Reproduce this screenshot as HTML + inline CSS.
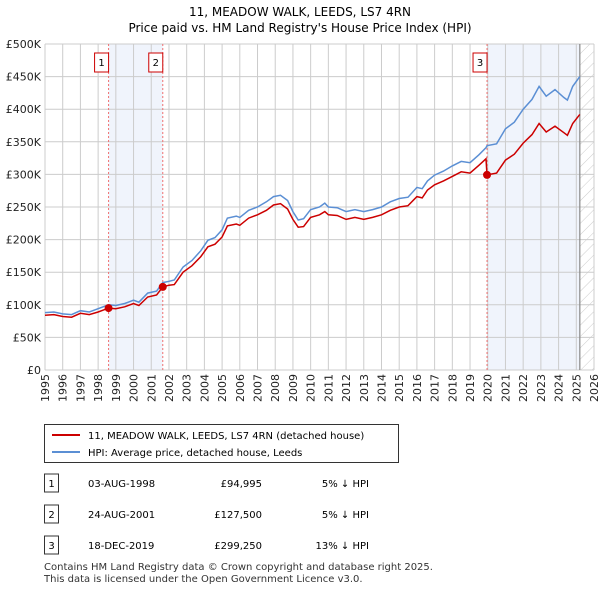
<!DOCTYPE html>
<html><head><meta charset="utf-8"><style>
body{margin:0;background:#fff;font-family:"Liberation Sans","DejaVu Sans",sans-serif}
svg text{font-family:"DejaVu Sans","Liberation Sans",sans-serif}
</style></head><body>
<svg id="c" width="600" height="590" viewBox="0 0 600 590" xmlns="http://www.w3.org/2000/svg">
<defs><pattern id="h" width="8" height="8" patternUnits="userSpaceOnUse" patternTransform="rotate(45)"><line x1="0" y1="0" x2="0" y2="8" stroke="#ccc" stroke-width="1"/></pattern></defs>
<text x="300" y="16" font-size="12" text-anchor="middle">11, MEADOW WALK, LEEDS, LS7 4RN</text>
<text x="300" y="32" font-size="12" text-anchor="middle">Price paid vs. HM Land Registry's House Price Index (HPI)</text>
<g id="plot"></g>
<g>
<rect x="44.5" y="424.5" width="354" height="38" fill="#fff" stroke="#333"/>
<line x1="52" y1="435" x2="80" y2="435" stroke="#cc0000" stroke-width="2"/>
<text x="88" y="439" font-size="10">11, MEADOW WALK, LEEDS, LS7 4RN (detached house)</text>
<line x1="52" y1="452" x2="80" y2="452" stroke="#5b8fd4" stroke-width="2"/>
<text x="88" y="456" font-size="10">HPI: Average price, detached house, Leeds</text>
</g>
<g id="tbl" font-size="10"></g>
<text x="44" y="570" font-size="10" fill="#333">Contains HM Land Registry data © Crown copyright and database right 2025.</text>
<text x="44" y="582" font-size="10" fill="#333">This data is licensed under the Open Government Licence v3.0.</text>
</svg>
<script>
const years=[1995,1995.5,1996,1996.5,1997,1997.5,1998,1998.59,1999,1999.5,2000,2000.3,2000.8,2001.3,2001.65,2002,2002.3,2002.8,2003.3,2003.8,2004.2,2004.6,2005,2005.3,2005.8,2006,2006.5,2007,2007.5,2007.9,2008.3,2008.7,2009,2009.3,2009.6,2010,2010.5,2010.8,2011,2011.5,2012,2012.5,2013,2013.5,2014,2014.5,2015,2015.5,2016,2016.3,2016.6,2017,2017.5,2018,2018.5,2019,2019.5,2019.9,2019.96,2020.5,2021,2021.5,2022,2022.5,2022.9,2023.3,2023.8,2024.3,2024.5,2024.8,2025.2];
const hpi=[88,89,86,85,91,89,94,100,99,102,107,104,118,121,134,136,138,158,168,183,199,203,215,233,236,234,245,250,258,266,268,260,243,230,232,246,250,256,250,249,243,246,243,246,250,258,263,265,280,278,290,299,305,313,320,318,330,341,344,347,370,380,400,415,435,420,430,418,414,435,450];
const paid=[84,85,82,81,87,85,89,95,94,97,102,99,112,115,127.5,130,131,150,160,174,189,193,204,221,224,222,233,238,245,253,255,247,231,219,220,234,238,243,238,237,231,234,231,234,238,245,250,252,266,264,276,284,290,297,304,302,314,324,299.25,302,322,331,348,361,378,365,374,364,360,378,392];
const saleYears=[1998.59,2001.65,2019.96];
const saleValues=[94.995,127.5,299.25];
const saleDates=["03-AUG-1998","24-AUG-2001","18-DEC-2019"];
const salePrices=["£94,995","£127,500","£299,250"];
const saleDiffs=["5% ↓ HPI","5% ↓ HPI","13% ↓ HPI"];
const yTicks=[0,50,100,150,200,250,300,350,400,450,500];
const yTickLabels=["£0","£50K","£100K","£150K","£200K","£250K","£300K","£350K","£400K","£450K","£500K"];
const xTicks=[1995,1996,1997,1998,1999,2000,2001,2002,2003,2004,2005,2006,2007,2008,2009,2010,2011,2012,2013,2014,2015,2016,2017,2018,2019,2020,2021,2022,2023,2024,2025,2026];
const dataEnd=2025.2;
const L=45,R=594,T=44,B=370;
const X=v=>L+(v-1995)/(2026-1995)*(R-L);
const Y=v=>B-v/500*(B-T);
const NS="http://www.w3.org/2000/svg";
const g=document.getElementById('plot');
function mk(t,a,p){const e=document.createElementNS(NS,t);for(const k in a)e.setAttribute(k,a[k]);(p||g).appendChild(e);return e;}
let e;
e=mk('rect',{x:L,y:T,width:R-L,height:B-T,fill:'#fff'});


e=mk('rect',{x:X(saleYears[0]),y:T,width:X(saleYears[1])-X(saleYears[0]),height:B-T,fill:'#f0f4fc'});


e=mk('rect',{x:X(saleYears[2]),y:T,width:X(dataEnd)-X(saleYears[2]),height:B-T,fill:'#f0f4fc'});


e=mk('rect',{x:X(dataEnd),y:T,width:R-X(dataEnd),height:B-T,fill:'url(#h)'});


yTicks.forEach((v,i)=>{
 e=mk('line',{x1:L,x2:R,y1:Y(v),y2:Y(v),stroke:'#cccccc','stroke-width':1});
 
 
 e=mk('text',{x:L-4,y:Y(v)+4,'font-size':11,'text-anchor':'end',fill:'#222'});e.textContent=yTickLabels[i];
 
 
});
xTicks.forEach(v=>{
 e=mk('line',{x1:X(v),x2:X(v),y1:T,y2:B,stroke:'#cccccc','stroke-width':1});
 
 
 e=mk('text',{x:0,y:0,'font-size':11,'text-anchor':'end',fill:'#222',transform:`translate(${X(v)+4},${B+4}) rotate(-90)`});e.textContent=v;
 
 
});
e=mk('line',{x1:X(dataEnd),x2:X(dataEnd),y1:T,y2:B,stroke:'#888','stroke-width':1.2});


saleYears.forEach((s,i)=>{
 e=mk('line',{x1:X(s),x2:X(s),y1:T,y2:B,stroke:'#f07070','stroke-width':1,'stroke-dasharray':'2,2'});
 
 
 e=mk('rect',{x:X(s)-10-4,y:53,width:14,height:19,fill:'#fff',stroke:'#cc0000'});
 
 
 e=mk('text',{x:X(s)-7,y:66,'font-size':10,'text-anchor':'middle'});e.textContent=i+1;
 
 
});
const pts=a=>a.map((v,i)=>X(years[i]).toFixed(1)+','+Y(v).toFixed(1)).join(' ');
e=mk('polyline',{points:pts(hpi),fill:'none',stroke:'#5b8fd4','stroke-width':1.5});


e=mk('polyline',{points:pts(paid),fill:'none',stroke:'#cc0000','stroke-width':1.5});


saleYears.forEach((s,i)=>{
 e=mk('circle',{cx:X(s),cy:Y(saleValues[i]*1),r:4,fill:'#cc0000'});
 
 
});
const t=document.getElementById('tbl');
saleYears.forEach((s,i)=>{
 const y=[487,518,549][i];
 e=mk('rect',{x:44.5,y:y-13,width:14,height:18,fill:'#fff',stroke:'#333'},t);
 
 
 e=mk('text',{x:51.5,y:y,'text-anchor':'middle'},t);e.textContent=i+1;
 
 
 e=mk('text',{x:88,y:y},t);e.textContent=saleDates[i];
 
 
 e=mk('text',{x:262,y:y,'text-anchor':'end'},t);e.textContent=salePrices[i];
 
 
 e=mk('text',{x:369,y:y,'text-anchor':'end'},t);e.textContent=saleDiffs[i];
 
 
});
</script>
</body></html>
